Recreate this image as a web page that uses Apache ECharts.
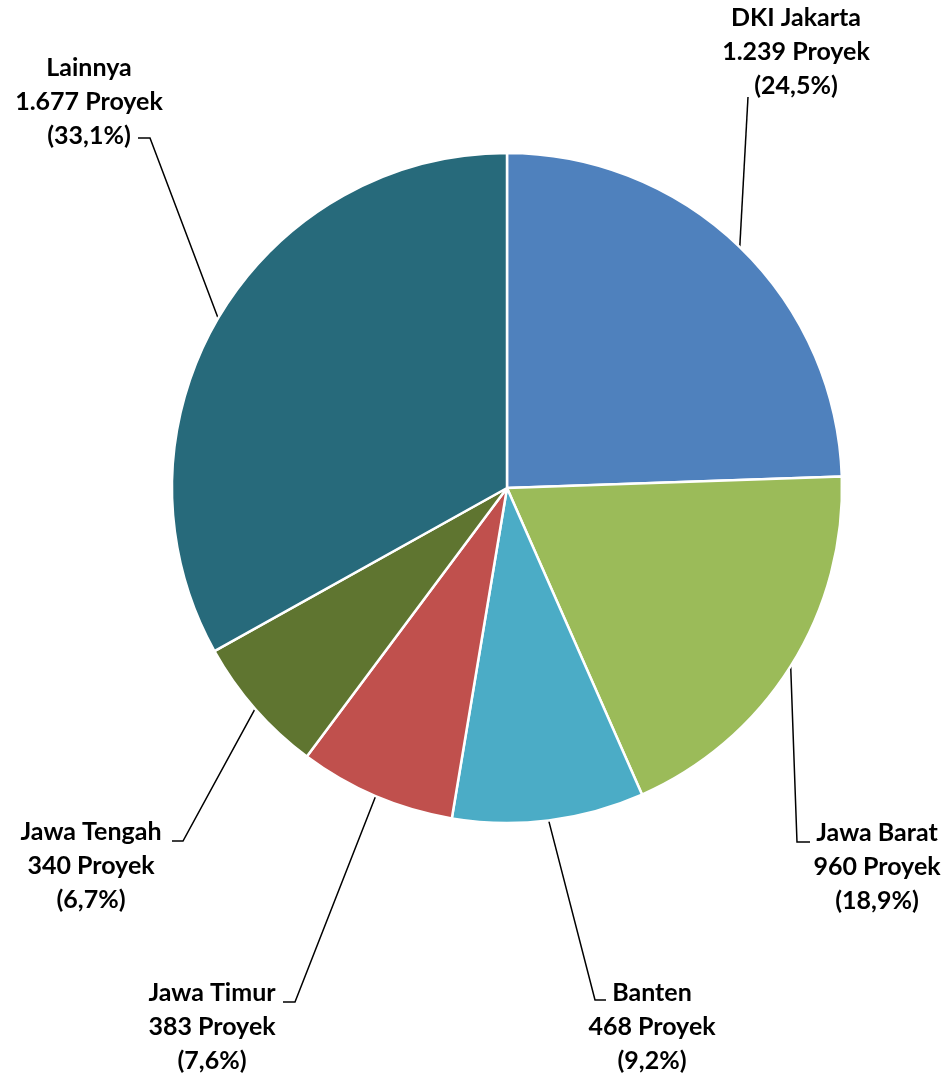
<!DOCTYPE html>
<html><head><meta charset="utf-8">
<script src="https://cdn.jsdelivr.net/npm/echarts@6/dist/echarts.min.js"></script>
<style>html,body{margin:0;padding:0;background:#fff}#main{width:949px;height:1075px}</style>
</head><body><div id="main"></div>
<script>
// ---- data ----
const categories = ['DKI Jakarta', 'Jawa Barat', 'Banten', 'Jawa Timur', 'Jawa Tengah', 'Lainnya'];
const values = [1239, 960, 468, 383, 340, 1677];
const unitLabel = 'Proyek';

// ---- styles / layout ----
const colors = ['#4F81BD', '#9BBB59', '#4BACC6', '#C0504D', '#5F7530', '#276A7B'];
// label block centres (px) and leader-line end offsets [dx, dy, hook] relative to them
const labelCenters = [[796, 52], [877, 867], [652, 1027], [212, 1027], [91, 866], [89, 102]];
const lineEnds = [[-48, 45, 0], [-67, -25, -13], [-46, -27, -11], [71, -25, 12], [81, -25, 11], [49, 36, 12]];

const total = values.reduce((a, b) => a + b, 0);
function fmtInt(v) { return String(v).replace(/\B(?=(\d{3})+(?!\d))/g, '.'); }
function fmtPct(v) { return (v / total * 100).toFixed(1).replace('.', ','); }

const chart = echarts.init(document.getElementById('main'), null, { renderer: 'canvas' });
chart.setOption({
  animation: false,
  backgroundColor: '#ffffff',
  color: colors,
  series: [{
    type: 'pie',
    center: [507, 488],
    radius: 335,
    startAngle: 90,
    clockwise: true,
    avoidLabelOverlap: false,
    data: categories.map((c, i) => ({ name: c, value: values[i] })),
    itemStyle: { borderColor: '#ffffff', borderWidth: 2.5 },
    label: {
      show: true,
      position: 'outside',
      formatter: p => p.name + '\n' + fmtInt(p.value) + ' ' + unitLabel + '\n(' + fmtPct(p.value) + '%)',
      fontFamily: 'Lato',
      fontWeight: 'bold',
      fontSize: 25,
      lineHeight: 34,
      color: '#000000',
      align: 'center'
    },
    labelLine: {
      show: true,
      length: 20,
      length2: 10,
      lineStyle: { color: '#000000', width: 1.5 }
    },
    emphasis: { disabled: true },
    labelLayout: function (params) {
      const i = params.dataIndex;
      const c = labelCenters[i], e = lineEnds[i];
      const p2 = [c[0] + e[0], c[1] + e[1]];
      const p1 = [p2[0] + e[2], p2[1]];
      const out = { x: c[0], y: c[1], align: 'center', verticalAlign: 'middle' };
      if (params.labelLinePoints && params.labelLinePoints[0]) {
        out.labelLinePoints = [params.labelLinePoints[0], p1, p2];
      }
      return out;
    }
  }]
});
</script>
</body></html>
